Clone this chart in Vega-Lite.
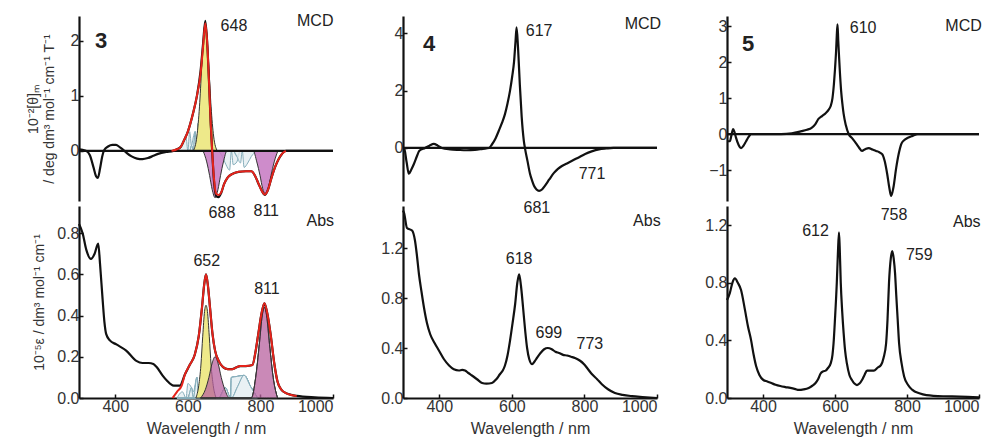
{
"$schema": "https://vega.github.io/schema/vega-lite/v6.json",
"padding": {"left": 26, "top": 12, "right": 0, "bottom": 2},
"background": "white",
"config": {
  "view": {"stroke": null},
  "font": "Liberation Sans",
  "axis": {"labelFont": "Liberation Sans", "labelFontSize": 16, "labelColor": "#333", "titleFont": "Liberation Sans", "titleFontSize": 16, "titleFontWeight": "normal", "titleColor": "#333", "domainColor": "#111", "domainWidth": 2.2, "tickColor": "#111", "tickWidth": 1.5, "tickSize": -4, "grid": false, "labelPadding": 4},
  "text": {"font": "Liberation Sans", "fontSize": 16, "color": "#222"},
  "line": {"interpolate": "monotone"},
  "area": {"interpolate": "monotone"}
},
"datasets": {
  "zero": [{"x": 300, "y": 0}, {"x": 1000, "y": 0}],
  "c3m": [{"x":300,"y":0.03},{"x":310,"y":0.02},{"x":320,"y":0.0},{"x":330,"y":-0.08},{"x":340,"y":-0.3},{"x":347,"y":-0.46},{"x":352,"y":-0.49},{"x":358,"y":-0.32},{"x":364,"y":-0.1},{"x":370,"y":0.02},{"x":380,"y":0.08},{"x":392,"y":0.11},{"x":402,"y":0.11},{"x":412,"y":0.07},{"x":422,"y":0.02},{"x":432,"y":-0.04},{"x":445,"y":-0.1},{"x":460,"y":-0.14},{"x":475,"y":-0.15},{"x":490,"y":-0.13},{"x":505,"y":-0.09},{"x":520,"y":-0.05},{"x":540,"y":-0.02},{"x":560,"y":0.0},{"x":570,"y":0.03},{"x":580,"y":0.07},{"x":590,"y":0.2},{"x":600,"y":0.35},{"x":607,"y":0.5},{"x":615,"y":0.7},{"x":625,"y":1.0},{"x":635,"y":1.45},{"x":642,"y":1.95},{"x":648,"y":2.36},{"x":653,"y":2.0},{"x":658,"y":1.3},{"x":663,"y":0.5},{"x":667,"y":0.0},{"x":672,"y":-0.55},{"x":678,"y":-0.82},{"x":685,"y":-0.84},{"x":692,"y":-0.76},{"x":700,"y":-0.6},{"x":710,"y":-0.48},{"x":722,"y":-0.42},{"x":740,"y":-0.38},{"x":760,"y":-0.37},{"x":775,"y":-0.37},{"x":785,"y":-0.45},{"x":795,"y":-0.6},{"x":805,"y":-0.74},{"x":812,"y":-0.8},{"x":820,"y":-0.72},{"x":830,"y":-0.5},{"x":840,"y":-0.3},{"x":850,"y":-0.15},{"x":860,"y":-0.05},{"x":870,"y":0.0},{"x":900,"y":0.0},{"x":1000,"y":0.0}],
  "c3mf": [{"x":555,"y":0.0},{"x":570,"y":0.03},{"x":580,"y":0.07},{"x":590,"y":0.2},{"x":600,"y":0.35},{"x":607,"y":0.5},{"x":615,"y":0.7},{"x":625,"y":1.0},{"x":635,"y":1.4},{"x":642,"y":1.9},{"x":648,"y":2.32},{"x":653,"y":2.0},{"x":658,"y":1.3},{"x":663,"y":0.5},{"x":667,"y":0.0},{"x":672,"y":-0.5},{"x":678,"y":-0.78},{"x":685,"y":-0.8},{"x":692,"y":-0.75},{"x":700,"y":-0.6},{"x":710,"y":-0.48},{"x":722,"y":-0.42},{"x":740,"y":-0.38},{"x":760,"y":-0.37},{"x":775,"y":-0.37},{"x":785,"y":-0.45},{"x":795,"y":-0.6},{"x":805,"y":-0.74},{"x":812,"y":-0.79},{"x":820,"y":-0.72},{"x":830,"y":-0.5},{"x":840,"y":-0.3},{"x":850,"y":-0.15},{"x":860,"y":-0.05},{"x":870,"y":0.0}],
  "c3mb": [
    {"b":"h1","k":"h","x":570,"y":0},{"b":"h1","k":"h","x":585,"y":0.1},{"b":"h1","k":"h","x":595,"y":0.25},{"b":"h1","k":"h","x":605,"y":0.35},{"b":"h1","k":"h","x":615,"y":0.25},{"b":"h1","k":"h","x":625,"y":0.1},{"b":"h1","k":"h","x":640,"y":0},
    {"b":"h2","k":"h","x":600,"y":0},{"b":"h2","k":"h","x":610,"y":0.1},{"b":"h2","k":"h","x":620,"y":0.35},{"b":"h2","k":"h","x":628,"y":0.5},{"b":"h2","k":"h","x":636,"y":0.35},{"b":"h2","k":"h","x":646,"y":0.1},{"b":"h2","k":"h","x":656,"y":0},
    {"b":"h3","k":"h","x":680,"y":0},{"b":"h3","k":"h","x":695,"y":-0.1},{"b":"h3","k":"h","x":705,"y":-0.25},{"b":"h3","k":"h","x":715,"y":-0.35},{"b":"h3","k":"h","x":725,"y":-0.25},{"b":"h3","k":"h","x":735,"y":-0.1},{"b":"h3","k":"h","x":750,"y":0},
    {"b":"h4","k":"h","x":720,"y":0},{"b":"h4","k":"h","x":735,"y":-0.1},{"b":"h4","k":"h","x":745,"y":-0.22},{"b":"h4","k":"h","x":755,"y":-0.3},{"b":"h4","k":"h","x":765,"y":-0.22},{"b":"h4","k":"h","x":775,"y":-0.1},{"b":"h4","k":"h","x":790,"y":0},
    {"b":"y1","k":"y","x":615,"y":0},{"b":"y1","k":"y","x":625,"y":0.27},{"b":"y1","k":"y","x":632,"y":0.8},{"b":"y1","k":"y","x":638,"y":1.5},{"b":"y1","k":"y","x":643,"y":2.05},{"b":"y1","k":"y","x":648,"y":2.3},{"b":"y1","k":"y","x":653,"y":2.05},{"b":"y1","k":"y","x":658,"y":1.5},{"b":"y1","k":"y","x":664,"y":0.8},{"b":"y1","k":"y","x":671,"y":0.27},{"b":"y1","k":"y","x":681,"y":0},
    {"b":"m1","k":"m","x":642,"y":0},{"b":"m1","k":"m","x":652,"y":-0.2},{"b":"m1","k":"m","x":660,"y":-0.45},{"b":"m1","k":"m","x":667,"y":-0.7},{"b":"m1","k":"m","x":675,"y":-0.85},{"b":"m1","k":"m","x":683,"y":-0.7},{"b":"m1","k":"m","x":690,"y":-0.45},{"b":"m1","k":"m","x":698,"y":-0.2},{"b":"m1","k":"m","x":708,"y":0},
    {"b":"m2","k":"m","x":780,"y":0},{"b":"m2","k":"m","x":790,"y":-0.2},{"b":"m2","k":"m","x":799,"y":-0.45},{"b":"m2","k":"m","x":806,"y":-0.68},{"b":"m2","k":"m","x":814,"y":-0.78},{"b":"m2","k":"m","x":822,"y":-0.68},{"b":"m2","k":"m","x":829,"y":-0.45},{"b":"m2","k":"m","x":838,"y":-0.2},{"b":"m2","k":"m","x":848,"y":0}
  ],
  "c3a": [{"x":300,"y":0.845},{"x":310,"y":0.8},{"x":320,"y":0.72},{"x":333,"y":0.675},{"x":343,"y":0.7},{"x":353,"y":0.75},{"x":358,"y":0.65},{"x":365,"y":0.48},{"x":370,"y":0.37},{"x":375,"y":0.31},{"x":385,"y":0.28},{"x":403,"y":0.26},{"x":430,"y":0.23},{"x":458,"y":0.18},{"x":475,"y":0.17},{"x":492,"y":0.17},{"x":505,"y":0.165},{"x":514,"y":0.15},{"x":530,"y":0.11},{"x":542,"y":0.085},{"x":561,"y":0.06},{"x":578,"y":0.06},{"x":592,"y":0.115},{"x":605,"y":0.16},{"x":619,"y":0.21},{"x":630,"y":0.3},{"x":639,"y":0.44},{"x":645,"y":0.55},{"x":650,"y":0.6},{"x":655,"y":0.55},{"x":661,"y":0.44},{"x":668,"y":0.31},{"x":675,"y":0.23},{"x":685,"y":0.18},{"x":697,"y":0.15},{"x":710,"y":0.14},{"x":722,"y":0.14},{"x":735,"y":0.15},{"x":744,"y":0.155},{"x":760,"y":0.155},{"x":778,"y":0.16},{"x":786,"y":0.22},{"x":794,"y":0.31},{"x":803,"y":0.41},{"x":811,"y":0.46},{"x":819,"y":0.41},{"x":828,"y":0.31},{"x":838,"y":0.17},{"x":847,"y":0.08},{"x":858,"y":0.04},{"x":869,"y":0.025},{"x":885,"y":0.015},{"x":900,"y":0.01},{"x":950,"y":0.003},{"x":1000,"y":0.0}],
  "c3af": [{"x":558,"y":0.0},{"x":570,"y":0.03},{"x":583,"y":0.06},{"x":592,"y":0.115},{"x":605,"y":0.16},{"x":619,"y":0.21},{"x":630,"y":0.3},{"x":639,"y":0.44},{"x":645,"y":0.55},{"x":650,"y":0.6},{"x":655,"y":0.55},{"x":661,"y":0.44},{"x":668,"y":0.31},{"x":675,"y":0.23},{"x":685,"y":0.18},{"x":697,"y":0.15},{"x":710,"y":0.14},{"x":722,"y":0.14},{"x":735,"y":0.15},{"x":744,"y":0.155},{"x":760,"y":0.155},{"x":778,"y":0.16},{"x":786,"y":0.22},{"x":794,"y":0.31},{"x":803,"y":0.41},{"x":811,"y":0.46},{"x":819,"y":0.41},{"x":828,"y":0.31},{"x":838,"y":0.17},{"x":847,"y":0.08},{"x":858,"y":0.04},{"x":869,"y":0.025},{"x":885,"y":0.015},{"x":900,"y":0.01}],
  "c3ab": [
    {"b":"h1","k":"h","x":570,"y":0},{"b":"h1","k":"h","x":585,"y":0.03},{"b":"h1","k":"h","x":600,"y":0.07},{"b":"h1","k":"h","x":615,"y":0.03},{"b":"h1","k":"h","x":630,"y":0},
    {"b":"h2","k":"h","x":595,"y":0},{"b":"h2","k":"h","x":610,"y":0.05},{"b":"h2","k":"h","x":625,"y":0.1},{"b":"h2","k":"h","x":640,"y":0.05},{"b":"h2","k":"h","x":655,"y":0},
    {"b":"h3","k":"h","x":685,"y":0},{"b":"h3","k":"h","x":703,"y":0.05},{"b":"h3","k":"h","x":720,"y":0.1},{"b":"h3","k":"h","x":737,"y":0.05},{"b":"h3","k":"h","x":755,"y":0},
    {"b":"h4","k":"h","x":718,"y":0},{"b":"h4","k":"h","x":737,"y":0.055},{"b":"h4","k":"h","x":755,"y":0.11},{"b":"h4","k":"h","x":773,"y":0.055},{"b":"h4","k":"h","x":792,"y":0},
    {"b":"y1","k":"y","x":622,"y":0},{"b":"y1","k":"y","x":630,"y":0.06},{"b":"y1","k":"y","x":636,"y":0.16},{"b":"y1","k":"y","x":641,"y":0.3},{"b":"y1","k":"y","x":646,"y":0.42},{"b":"y1","k":"y","x":650,"y":0.45},{"b":"y1","k":"y","x":654,"y":0.42},{"b":"y1","k":"y","x":659,"y":0.3},{"b":"y1","k":"y","x":664,"y":0.16},{"b":"y1","k":"y","x":670,"y":0.06},{"b":"y1","k":"y","x":678,"y":0},
    {"b":"m1","k":"m","x":635,"y":0},{"b":"m1","k":"m","x":648,"y":0.04},{"b":"m1","k":"m","x":658,"y":0.1},{"b":"m1","k":"m","x":667,"y":0.17},{"b":"m1","k":"m","x":675,"y":0.2},{"b":"m1","k":"m","x":683,"y":0.17},{"b":"m1","k":"m","x":692,"y":0.1},{"b":"m1","k":"m","x":702,"y":0.04},{"b":"m1","k":"m","x":715,"y":0},
    {"b":"m2","k":"m","x":775,"y":0},{"b":"m2","k":"m","x":787,"y":0.1},{"b":"m2","k":"m","x":797,"y":0.26},{"b":"m2","k":"m","x":805,"y":0.4},{"b":"m2","k":"m","x":811,"y":0.44},{"b":"m2","k":"m","x":817,"y":0.4},{"b":"m2","k":"m","x":825,"y":0.26},{"b":"m2","k":"m","x":835,"y":0.1},{"b":"m2","k":"m","x":847,"y":0}
  ],
  "c4m": [{"x":300,"y":0.0},{"x":303,"y":0.0},{"x":310,"y":-0.5},{"x":316,"y":-0.9},{"x":323,"y":-0.75},{"x":330,"y":-0.56},{"x":338,"y":-0.3},{"x":345,"y":-0.1},{"x":361,"y":0.0},{"x":373,"y":0.08},{"x":385,"y":0.14},{"x":396,"y":0.08},{"x":407,"y":0.0},{"x":430,"y":-0.05},{"x":454,"y":-0.07},{"x":475,"y":-0.08},{"x":498,"y":-0.07},{"x":520,"y":-0.03},{"x":537,"y":0.0},{"x":545,"y":0.12},{"x":555,"y":0.33},{"x":564,"y":0.6},{"x":573,"y":0.88},{"x":581,"y":1.18},{"x":588,"y":1.55},{"x":595,"y":2.0},{"x":601,"y":2.5},{"x":606,"y":3.0},{"x":610,"y":3.7},{"x":613,"y":4.2},{"x":617,"y":3.5},{"x":622,"y":2.2},{"x":627,"y":1.1},{"x":633,"y":0.25},{"x":636,"y":0.0},{"x":643,"y":-0.45},{"x":650,"y":-0.9},{"x":656,"y":-1.15},{"x":661,"y":-1.32},{"x":668,"y":-1.45},{"x":675,"y":-1.5},{"x":683,"y":-1.45},{"x":691,"y":-1.32},{"x":703,"y":-1.1},{"x":716,"y":-0.87},{"x":727,"y":-0.73},{"x":738,"y":-0.63},{"x":752,"y":-0.54},{"x":766,"y":-0.45},{"x":784,"y":-0.33},{"x":802,"y":-0.21},{"x":820,"y":-0.12},{"x":840,"y":-0.05},{"x":860,"y":-0.02},{"x":880,"y":0.0},{"x":1000,"y":0.0}],
  "c4a": [{"x":300,"y":1.5},{"x":303,"y":1.48},{"x":311,"y":1.36},{"x":325,"y":1.34},{"x":333,"y":1.26},{"x":338,"y":1.15},{"x":344,"y":0.99},{"x":351,"y":0.85},{"x":358,"y":0.72},{"x":366,"y":0.6},{"x":375,"y":0.51},{"x":387,"y":0.44},{"x":399,"y":0.38},{"x":413,"y":0.31},{"x":427,"y":0.26},{"x":440,"y":0.23},{"x":454,"y":0.22},{"x":463,"y":0.225},{"x":471,"y":0.22},{"x":480,"y":0.2},{"x":490,"y":0.18},{"x":504,"y":0.15},{"x":518,"y":0.12},{"x":530,"y":0.115},{"x":545,"y":0.12},{"x":557,"y":0.15},{"x":567,"y":0.19},{"x":575,"y":0.22},{"x":581,"y":0.26},{"x":588,"y":0.34},{"x":595,"y":0.46},{"x":602,"y":0.6},{"x":609,"y":0.75},{"x":615,"y":0.92},{"x":620,"y":0.99},{"x":625,"y":0.9},{"x":631,"y":0.72},{"x":637,"y":0.53},{"x":642,"y":0.4},{"x":648,"y":0.31},{"x":656,"y":0.27},{"x":662,"y":0.29},{"x":669,"y":0.32},{"x":679,"y":0.36},{"x":689,"y":0.39},{"x":699,"y":0.4},{"x":710,"y":0.39},{"x":720,"y":0.37},{"x":730,"y":0.36},{"x":741,"y":0.345},{"x":752,"y":0.34},{"x":763,"y":0.33},{"x":774,"y":0.32},{"x":787,"y":0.3},{"x":799,"y":0.27},{"x":810,"y":0.23},{"x":821,"y":0.19},{"x":835,"y":0.15},{"x":848,"y":0.11},{"x":865,"y":0.07},{"x":884,"y":0.04},{"x":905,"y":0.025},{"x":931,"y":0.015},{"x":960,"y":0.008},{"x":1000,"y":0.0}],
  "c5m": [{"x":300,"y":-0.2},{"x":308,"y":-0.2},{"x":312,"y":-0.05},{"x":317,"y":0.14},{"x":321,"y":0.05},{"x":325,"y":-0.1},{"x":332,"y":-0.3},{"x":339,"y":-0.39},{"x":346,"y":-0.32},{"x":353,"y":-0.2},{"x":360,"y":-0.08},{"x":367,"y":0.0},{"x":400,"y":0.0},{"x":450,"y":0.0},{"x":480,"y":0.02},{"x":507,"y":0.08},{"x":522,"y":0.12},{"x":535,"y":0.17},{"x":545,"y":0.27},{"x":554,"y":0.42},{"x":564,"y":0.5},{"x":574,"y":0.58},{"x":582,"y":0.67},{"x":588,"y":0.78},{"x":593,"y":1.0},{"x":597,"y":1.39},{"x":600,"y":1.8},{"x":603,"y":2.3},{"x":605,"y":2.75},{"x":607,"y":3.05},{"x":609,"y":2.6},{"x":611,"y":2.2},{"x":613,"y":1.83},{"x":617,"y":1.2},{"x":621,"y":0.8},{"x":624,"y":0.56},{"x":630,"y":0.25},{"x":638,"y":0.0},{"x":648,"y":-0.12},{"x":658,"y":-0.25},{"x":667,"y":-0.38},{"x":675,"y":-0.47},{"x":684,"y":-0.42},{"x":694,"y":-0.39},{"x":704,"y":-0.43},{"x":714,"y":-0.47},{"x":722,"y":-0.5},{"x":731,"y":-0.56},{"x":738,"y":-0.75},{"x":745,"y":-1.11},{"x":751,"y":-1.5},{"x":756,"y":-1.72},{"x":762,"y":-1.5},{"x":770,"y":-0.94},{"x":777,"y":-0.55},{"x":784,"y":-0.28},{"x":792,"y":-0.17},{"x":801,"y":-0.11},{"x":815,"y":-0.05},{"x":830,"y":0.0},{"x":1000,"y":0.0}],
  "c5a": [{"x":300,"y":0.68},{"x":308,"y":0.73},{"x":315,"y":0.8},{"x":322,"y":0.83},{"x":330,"y":0.8},{"x":339,"y":0.75},{"x":350,"y":0.61},{"x":358,"y":0.5},{"x":367,"y":0.4},{"x":374,"y":0.3},{"x":381,"y":0.22},{"x":390,"y":0.16},{"x":401,"y":0.125},{"x":412,"y":0.115},{"x":423,"y":0.104},{"x":435,"y":0.092},{"x":448,"y":0.083},{"x":462,"y":0.076},{"x":476,"y":0.07},{"x":490,"y":0.062},{"x":499,"y":0.056},{"x":513,"y":0.06},{"x":527,"y":0.07},{"x":537,"y":0.085},{"x":546,"y":0.104},{"x":553,"y":0.13},{"x":560,"y":0.17},{"x":567,"y":0.185},{"x":574,"y":0.19},{"x":581,"y":0.21},{"x":588,"y":0.24},{"x":593,"y":0.3},{"x":596,"y":0.38},{"x":600,"y":0.55},{"x":605,"y":0.8},{"x":608,"y":1.0},{"x":611,"y":1.15},{"x":613,"y":1.05},{"x":616,"y":0.8},{"x":620,"y":0.6},{"x":624,"y":0.45},{"x":628,"y":0.33},{"x":633,"y":0.24},{"x":640,"y":0.16},{"x":647,"y":0.125},{"x":654,"y":0.1},{"x":661,"y":0.09},{"x":668,"y":0.1},{"x":675,"y":0.125},{"x":682,"y":0.16},{"x":689,"y":0.19},{"x":698,"y":0.19},{"x":708,"y":0.19},{"x":718,"y":0.21},{"x":728,"y":0.23},{"x":735,"y":0.28},{"x":742,"y":0.38},{"x":746,"y":0.55},{"x":750,"y":0.8},{"x":755,"y":0.97},{"x":759,"y":1.02},{"x":763,"y":0.97},{"x":767,"y":0.86},{"x":770,"y":0.72},{"x":774,"y":0.55},{"x":778,"y":0.38},{"x":785,"y":0.24},{"x":792,"y":0.15},{"x":803,"y":0.09},{"x":815,"y":0.056},{"x":834,"y":0.033},{"x":854,"y":0.02},{"x":900,"y":0.012},{"x":946,"y":0.01},{"x":1000,"y":0.005}],
  "t3m": [{"x":727,"y":2.27,"t":"648"},{"x":951,"y":2.36,"t":"MCD"}],
  "t3a": [{"x":694,"y":0.9,"t":"688"},{"x":816,"y":0.91,"t":"811"},{"x":965,"y":0.86,"t":"Abs"},{"x":652,"y":0.665,"t":"652"},{"x":818,"y":0.53,"t":"811"}],
  "t4m": [{"x":675,"y":4.08,"t":"617"},{"x":961,"y":4.32,"t":"MCD"},{"x":821,"y":-0.9,"t":"771"}],
  "t4a": [{"x":669,"y":1.52,"t":"681"},{"x":972,"y":1.42,"t":"Abs"},{"x":620,"y":1.11,"t":"618"},{"x":702,"y":0.52,"t":"699"},{"x":815,"y":0.43,"t":"773"}],
  "t5m": [{"x":678,"y":2.94,"t":"610"},{"x":957,"y":3.0,"t":"MCD"}],
  "t5a": [{"x":764,"y":1.27,"t":"758"},{"x":966,"y":1.22,"t":"Abs"},{"x":546,"y":1.16,"t":"612"},{"x":834,"y":0.99,"t":"759"}],
  "n3": [{"x":361,"y":2.0,"t":"3"}],
  "n4": [{"x":372,"y":3.62,"t":"4"}],
  "n5": [{"x":359,"y":2.5,"t":"5"}]
},
"spacing": 42,
"hconcat": [
 {"spacing": 5, "bounds": "flush", "vconcat": [
  {"width": 254, "height": 185,
   "encoding": {
     "x": {"field": "x", "type": "quantitative", "scale": {"domain": [300, 1000], "nice": false}, "axis": null},
     "y": {"field": "y", "type": "quantitative", "scale": {"domain": [-0.91, 2.45], "nice": false}, "axis": {"values": [0, 1, 2], "title": ["10⁻²[θ]ₘ", "/ deg dm³ mol⁻¹ cm⁻¹ T⁻¹"], "titleFontSize": 14, "titlePadding": 14}}
   },
   "layer": [
    {"data": {"name": "c3mb"}, "transform": [{"filter": "datum.k == 'h'"}], "mark": {"type": "area", "fill": "#e4edf1", "fillOpacity": 0.8, "stroke": "#86aebb", "strokeWidth": 1}, "encoding": {"detail": {"field": "b"}}},
    {"data": {"name": "c3mb"}, "transform": [{"filter": "datum.k == 'y'"}], "mark": {"type": "area", "fill": "#eee98a", "stroke": "#333", "strokeWidth": 1}, "encoding": {"detail": {"field": "b"}}},
    {"data": {"name": "c3mb"}, "transform": [{"filter": "datum.k == 'm'"}], "mark": {"type": "area", "fill": "#c678c2", "fillOpacity": 0.85, "stroke": "#333", "strokeWidth": 1}, "encoding": {"detail": {"field": "b"}}},
    {"data": {"name": "zero"}, "mark": {"type": "line", "color": "#111", "strokeWidth": 2.2, "interpolate": "linear"}},
    {"data": {"name": "c3m"}, "mark": {"type": "line", "color": "#111", "strokeWidth": 2.2}},
    {"data": {"name": "c3mf"}, "mark": {"type": "line", "color": "#e5231b", "strokeWidth": 2}},
    {"data": {"name": "t3m"}, "mark": {"type": "text"}, "encoding": {"text": {"field": "t"}}},
    {"data": {"name": "n3"}, "mark": {"type": "text", "fontSize": 22, "fontWeight": "bold", "color": "#222"}, "encoding": {"text": {"field": "t"}}}
   ]},
  {"width": 254, "height": 192,
   "encoding": {
     "x": {"field": "x", "type": "quantitative", "scale": {"domain": [300, 1000], "nice": false}, "axis": {"values": [400, 600, 800, 1000], "format": "d", "title": "Wavelength / nm", "titlePadding": 6}},
     "y": {"field": "y", "type": "quantitative", "scale": {"domain": [0, 0.932], "nice": false}, "axis": {"values": [0, 0.2, 0.4, 0.6, 0.8], "format": ".1f", "title": "10⁻⁵ε / dm³ mol⁻¹ cm⁻¹", "titleFontSize": 14, "titlePadding": 10}}
   },
   "layer": [
    {"data": {"name": "c3ab"}, "transform": [{"filter": "datum.k == 'h'"}], "mark": {"type": "area", "fill": "#e4edf1", "fillOpacity": 0.8, "stroke": "#86aebb", "strokeWidth": 1}, "encoding": {"detail": {"field": "b"}}},
    {"data": {"name": "c3ab"}, "transform": [{"filter": "datum.k == 'y'"}], "mark": {"type": "area", "fill": "#eee98a", "stroke": "#333", "strokeWidth": 1}, "encoding": {"detail": {"field": "b"}}},
    {"data": {"name": "c3ab"}, "transform": [{"filter": "datum.k == 'm'"}], "mark": {"type": "area", "fill": "#b8619f", "fillOpacity": 0.75, "stroke": "#333", "strokeWidth": 1}, "encoding": {"detail": {"field": "b"}}},
    {"data": {"name": "c3a"}, "mark": {"type": "line", "color": "#111", "strokeWidth": 2.2}},
    {"data": {"name": "c3af"}, "mark": {"type": "line", "color": "#e5231b", "strokeWidth": 2}},
    {"data": {"name": "t3a"}, "mark": {"type": "text"}, "encoding": {"text": {"field": "t"}}}
   ]}
 ]},
 {"spacing": 5, "bounds": "flush", "vconcat": [
  {"width": 254, "height": 185,
   "encoding": {
     "x": {"field": "x", "type": "quantitative", "scale": {"domain": [300, 1000], "nice": false}, "axis": null},
     "y": {"field": "y", "type": "quantitative", "scale": {"domain": [-1.85, 4.6], "nice": false}, "axis": {"values": [0, 2, 4], "title": null}}
   },
   "layer": [
    {"data": {"name": "zero"}, "mark": {"type": "line", "color": "#111", "strokeWidth": 2.2, "interpolate": "linear"}},
    {"data": {"name": "c4m"}, "mark": {"type": "line", "color": "#111", "strokeWidth": 2.2}},
    {"data": {"name": "t4m"}, "mark": {"type": "text"}, "encoding": {"text": {"field": "t"}}},
    {"data": {"name": "n4"}, "mark": {"type": "text", "fontSize": 22, "fontWeight": "bold", "color": "#222"}, "encoding": {"text": {"field": "t"}}}
   ]},
  {"width": 254, "height": 192,
   "encoding": {
     "x": {"field": "x", "type": "quantitative", "scale": {"domain": [300, 1000], "nice": false}, "axis": {"values": [400, 600, 800, 1000], "format": "d", "title": "Wavelength / nm", "titlePadding": 6}},
     "y": {"field": "y", "type": "quantitative", "scale": {"domain": [0, 1.536], "nice": false}, "axis": {"values": [0, 0.4, 0.8, 1.2], "format": ".1f", "title": null}}
   },
   "layer": [
    {"data": {"name": "c4a"}, "mark": {"type": "line", "color": "#111", "strokeWidth": 2.2}},
    {"data": {"name": "t4a"}, "mark": {"type": "text"}, "encoding": {"text": {"field": "t"}}}
   ]}
 ]},
 {"spacing": 5, "bounds": "flush", "vconcat": [
  {"width": 252, "height": 185,
   "encoding": {
     "x": {"field": "x", "type": "quantitative", "scale": {"domain": [300, 1000], "nice": false}, "axis": null},
     "y": {"field": "y", "type": "quantitative", "scale": {"domain": [-1.86, 3.28], "nice": false}, "axis": {"values": [-1, 0, 1, 2, 3], "title": null}}
   },
   "layer": [
    {"data": {"name": "zero"}, "mark": {"type": "line", "color": "#111", "strokeWidth": 2.2, "interpolate": "linear"}},
    {"data": {"name": "c5m"}, "mark": {"type": "line", "color": "#111", "strokeWidth": 2.2}},
    {"data": {"name": "t5m"}, "mark": {"type": "text"}, "encoding": {"text": {"field": "t"}}},
    {"data": {"name": "n5"}, "mark": {"type": "text", "fontSize": 22, "fontWeight": "bold", "color": "#222"}, "encoding": {"text": {"field": "t"}}}
   ]},
  {"width": 252, "height": 192,
   "encoding": {
     "x": {"field": "x", "type": "quantitative", "scale": {"domain": [300, 1000], "nice": false}, "axis": {"values": [400, 600, 800, 1000], "format": "d", "title": "Wavelength / nm", "titlePadding": 6}},
     "y": {"field": "y", "type": "quantitative", "scale": {"domain": [0, 1.333], "nice": false}, "axis": {"values": [0, 0.4, 0.8, 1.2], "format": ".1f", "title": null}}
   },
   "layer": [
    {"data": {"name": "c5a"}, "mark": {"type": "line", "color": "#111", "strokeWidth": 2.2}},
    {"data": {"name": "t5a"}, "mark": {"type": "text"}, "encoding": {"text": {"field": "t"}}}
   ]}
 ]}
]
}
